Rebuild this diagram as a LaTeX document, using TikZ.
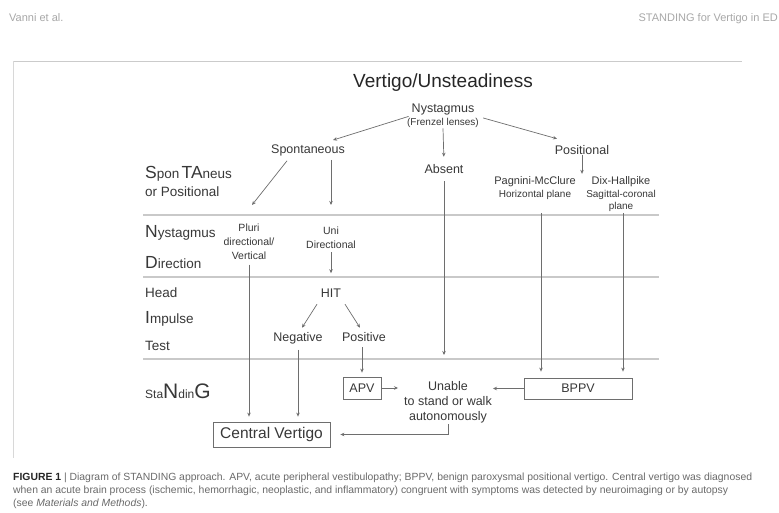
\documentclass[tikz,border=0pt]{standalone}
\usepackage{fontspec}
\setmainfont{Liberation Sans}
\usetikzlibrary{arrows.meta, positioning}
\definecolor{ink}{HTML}{383838}
\definecolor{wiregray}{HTML}{6e6e6e}
\definecolor{bandgray}{HTML}{c9c9c9}
\definecolor{headgray}{HTML}{a8a8a8}
\definecolor{capgray}{HTML}{6a6a6a}

% initial letters of the STANDING steps
\newcommand{\keyl}[1]{{\fontsize{17.5}{18}\selectfont #1}}
\newcommand{\keyg}[1]{{\fontsize{21}{22}\selectfont #1}}

\begin{document}
\begin{tikzpicture}[x=1pt, y=-1pt,
  lbl/.style={font=\fontsize{12.5}{15}\selectfont, text=ink, inner sep=1pt, anchor=base},
  note/.style={font=\fontsize{10.5}{14}\selectfont, text=ink, inner sep=1pt, align=center, anchor=north},
  side/.style={font=\fontsize{13.5}{15}\selectfont, text=ink, inner sep=0pt, anchor=base west},
  outcome/.style={draw=wiregray, line width=0.8pt, text=ink, inner sep=0pt, font=\fontsize{12.5}{15}\selectfont},
  arr/.style={-{Stealth[length=4pt, width=3.5pt]}, line width=0.7pt, draw=wiregray},
  band/.style={line width=2.5pt, draw=bandgray},
  capline/.style={anchor=base west, inner sep=0pt, font=\fontsize{10.4}{12}\selectfont, text=capgray},
  runhead/.style={anchor=base west, inner sep=0pt, font=\fontsize{11}{12}\selectfont, text=headgray},
]
\useasboundingbox (0,0) rectangle (779,512);
\fill[white] (0,0) rectangle (779,512);

% running head and frame
\node[runhead] (runauth) at (9,21) {Vanni et al.};
\node[runhead, anchor=base east] (runtitle) at (778,21) {STANDING for Vertigo in ED};
\draw[headgray!60, line width=0.8pt] (13,61) -- (742,61);
\draw[headgray!45, line width=0.6pt] (13,61) -- (13,458);

% bands between the steps
\foreach \y in {215,277,359}
  \draw[band] (143,\y) -- (659,\y);

% step names
\node[side] (spon) at (145,178) {\keyl{S}pon\,\keyl{TA}neus};
\node[side] (orpos) at (145,196) {or Positional};
\node[side] (nyleft) at (145,237) {\keyl{N}ystagmus};
\node[side] (dirleft) at (145,268) {\keyl{D}irection};
\node[side] (head) at (145,297) {Head};
\node[side] (impulse) at (145,323) {\keyl{I}mpulse};
\node[side] (test) at (145,350) {Test};
\node[side, font=\fontsize{12}{14}\selectfont] (standing) at (145,398) {Sta\keyg{N}din\keyg{G}};

% tree
\node[lbl, font=\fontsize{19}{22}\selectfont, text=black!85] (title) at (443,87) {Vertigo/Unsteadiness};
\node[lbl] (nyst) at (443,112) {Nystagmus};
\node[lbl, font=\fontsize{10}{11}\selectfont] (frenzel) at (443,125) {(Frenzel lenses)};
\node[lbl] (spont) at (308,153) {Spontaneous};
\node[lbl] (absent) at (444,173) {Absent};
\node[lbl] (posit) at (582,154) {Positional};
\node[lbl, font=\fontsize{11}{13}\selectfont] (pagnini) at (535,184) {Pagnini-McClure};
\node[lbl, font=\fontsize{10}{12}\selectfont] (pagplane) at (535,197) {Horizontal plane};
\node[lbl, font=\fontsize{11}{13}\selectfont] (dix) at (621,184) {Dix-Hallpike};
\node[lbl, font=\fontsize{10}{12}\selectfont] (dixplane) at (621,197) {Sagittal-coronal};
\node[lbl, font=\fontsize{10}{12}\selectfont] (dixplane2) at (621,209) {plane};
\coordinate (pagfoot) at (541,213);
\coordinate (dixfoot) at (623,213);

\node[note] (pluri) at (249,222.5) {Pluri\\directional/\\Vertical};
\node[note] (uni) at (331,226) {Uni\\Directional};
\node[lbl] (hit) at (331,297) {HIT};
\node[lbl] (neg) at (298,341) {Negative};
\node[lbl] (pos) at (364,341) {Positive};

\node[outcome, minimum width=38pt, minimum height=22pt] (apv) at (362,388) {APV};
\node[outcome, minimum width=108pt, minimum height=21pt] (bppv) at (578,388.5) {BPPV};
\node[outcome, minimum width=117pt, minimum height=25pt, font=\fontsize{15.5}{18}\selectfont] (central) at (271.5,434.5) {Central Vertigo};
\node[lbl, anchor=north, align=center] (unable) at (448,380) {Unable\\to stand or walk\\autonomously};

\draw[arr, shorten <=2pt] (nyst.south west) -- ([xshift=25pt, yshift=3pt]spont.north);
\draw[arr, shorten <=8pt] (nyst.south east) -- ([xshift=-25pt, yshift=5pt]posit.north);
\draw[arr, shorten >=6pt] (frenzel.south) -- (absent.north);
\draw[arr, shorten >=1pt] (posit.south) -- (dix.north -| posit.south);
\draw[arr] ([xshift=-21pt, yshift=-4pt]spont.south) -- ([xshift=3pt, yshift=17.5pt]pluri.north);
\draw[arr, shorten <=3pt] (uni.north |- spont.south) -- ([yshift=21pt]uni.north);
\draw[arr, shorten <=2pt, shorten >=14pt] (uni.south) -- (uni.south |- hit.north);
\draw[arr] ([xshift=-14pt, yshift=-6pt]hit.south) -- ([xshift=4pt, yshift=3pt]neg.north);
\draw[arr] ([xshift=14pt, yshift=-6pt]hit.south) -- ([xshift=-4pt, yshift=3pt]pos.north);
\draw[arr, shorten <=4pt, shorten >=5pt] (pluri.south) -- (pluri.south |- central.north);
\draw[arr, shorten <=5pt, shorten >=5pt] (neg.south) -- (neg.south |- central.north);
\draw[arr, shorten <=5pt, shorten >=4pt] (apv.north |- pos.south) -- (apv.north);
\draw[arr, shorten <=7pt, shorten >=25pt] (absent.south) -- (absent.south |- unable.north);
\draw[arr, shorten >=6pt] (pagfoot) -- (pagfoot |- bppv.north);
\draw[arr, shorten >=6pt] (dixfoot) -- (dixfoot |- bppv.north);
\draw[arr, shorten >=5pt] (apv.east) -- (apv.east -| unable.west);
\draw[arr] (bppv.west) -- (bppv.west -| unable.east);
\draw[arr, shorten >=10pt] (unable.south) |- (central.east);

% caption
\node[capline] (cap1) at (13,480) {\textbf{\color{black!85}FIGURE 1} | Diagram of STANDING approach. APV, acute peripheral vestibulopathy; BPPV, benign paroxysmal positional vertigo. Central vertigo was diagnosed};
\node[capline] (cap2) at (13,493) {when an acute brain process (ischemic, hemorrhagic, neoplastic, and inflammatory) congruent with symptoms was detected by neuroimaging or by autopsy};
\node[capline] (cap3) at (13,506) {(see \textit{Materials and Methods}).};
\end{tikzpicture}
\end{document}
